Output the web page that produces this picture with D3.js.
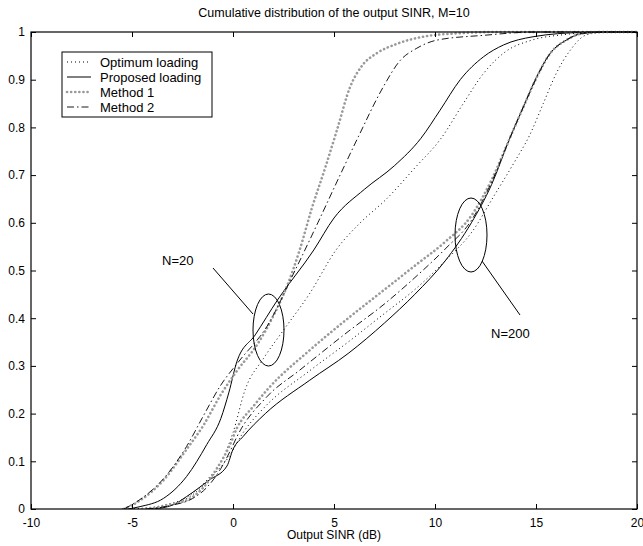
<!DOCTYPE html>
<html><head><meta charset="utf-8">
<script src="https://cdn.jsdelivr.net/npm/d3@7"></script>
<style>body{margin:0;background:#fff}svg{display:block}text{font-family:Arial,"Liberation Sans",sans-serif;fill:#000}</style>
</head><body><svg id="c" width="643" height="546"></svg>
<script>
const xTicks = [-10,-5,0,5,10,15,20];
const yTicks = [0,0.1,0.2,0.3,0.4,0.5,0.6,0.7,0.8,0.9,1];
const seriesNames = ["Optimum loading","Proposed loading","Method 1","Method 2"];

const optimum20 = [[-5.5,0],[-4,0.003],[-3.45,0.008],[-2.5,0.02],[-1.8,0.04],[-1.2,0.065],[-0.64,0.096],[0,0.16],[0.6,0.25],[1.5,0.315],[2.5,0.375],[3.8,0.452],[5.1,0.543],[6.3,0.6],[7.6,0.65],[9.0,0.715],[10.3,0.777],[11.4,0.85],[12.4,0.913],[13.5,0.959],[14.8,0.983],[16.5,0.995],[18,1],[20,1]];
const proposed20 = [[-5.2,0],[-4.6,0.005],[-3.45,0.022],[-2.3,0.068],[-1.3,0.135],[-0.6,0.19],[-0.2,0.245],[0.2,0.31],[1.1,0.365],[2.2,0.438],[4.0,0.543],[5.0,0.61],[6.5,0.67],[8.0,0.72],[9.3,0.777],[10.25,0.836],[11.25,0.9],[12.4,0.948],[13.4,0.973],[14.85,0.99],[17.3,0.999],[20,1]];
const method1_20 = [[-5.4,0],[-4.6,0.018],[-3.45,0.06],[-2.3,0.125],[-1.47,0.175],[-0.6,0.24],[0.2,0.29],[1.2,0.345],[2.0,0.405],[2.7,0.47],[3.3,0.543],[3.9,0.63],[4.6,0.72],[5.15,0.795],[5.8,0.885],[6.4,0.93],[7.1,0.955],[8.1,0.975],[9.4,0.99],[11,0.997],[13,1],[20,1]];
const method2_20 = [[-5.4,0],[-4.6,0.02],[-3.45,0.063],[-2.3,0.131],[-1.47,0.195],[-0.6,0.26],[0.3,0.31],[1.67,0.382],[3.07,0.5],[4.2,0.6],[5.3,0.7],[6.2,0.78],[7.44,0.885],[8.27,0.94],[9.1,0.966],[10.1,0.983],[12.4,0.993],[15,1],[20,1]];
const optimum200 = [[-4.2,0],[-3,0.009],[-2,0.03],[-1,0.07],[-0.2,0.11],[0.5,0.16],[1.6,0.215],[3.8,0.29],[5.7,0.35],[7.5,0.41],[9,0.46],[10.5,0.52],[11.9,0.585],[12.9,0.655],[13.9,0.725],[14.7,0.785],[15.36,0.85],[16.0,0.913],[16.7,0.962],[17.5,0.994],[18.5,1],[20,1]];
const proposed200 = [[-4,0],[-3,0.008],[-2.3,0.026],[-1.2,0.06],[-0.3,0.09],[0,0.125],[0.5,0.152],[1.6,0.2],[3.8,0.27],[5.7,0.326],[7.5,0.39],[9,0.45],[10.5,0.52],[11.8,0.6],[12.8,0.68],[13.7,0.777],[14.37,0.843],[15.03,0.906],[15.7,0.955],[16.5,0.983],[17.3,0.997],[18.5,1],[20,1]];
const method1_200 = [[-4.5,0],[-3,0.01],[-2,0.025],[-1.47,0.045],[-0.8,0.085],[-0.2,0.13],[0.2,0.17],[1.0,0.215],[1.8,0.255],[3.8,0.333],[5.7,0.4],[7.5,0.46],[9,0.51],[10.5,0.56],[11.8,0.615],[12.8,0.69],[13.7,0.777],[14.4,0.845],[15.05,0.906],[15.7,0.955],[16.5,0.983],[17.3,0.997],[18.5,1],[20,1]];
const method2_200 = [[-4.3,0],[-3,0.008],[-2,0.022],[-1.3,0.045],[-0.6,0.085],[-0.1,0.125],[0.2,0.152],[1.67,0.235],[3.3,0.291],[5.7,0.372],[7.5,0.43],[9,0.485],[10.5,0.545],[11.8,0.605],[12.8,0.685],[13.7,0.777],[14.4,0.845],[15.05,0.906],[15.7,0.955],[16.5,0.983],[17.3,0.997],[18.5,1],[20,1]];

const L=31,R=637,T=32,B=509;
const svg=d3.select("#c");
const x=d3.scaleLinear().domain([-10,20]).range([L,R]);
const y=d3.scaleLinear().domain([0,1]).range([B,T]);

const styles=[
 {stroke:"#000",width:1,dash:"1,3",cap:"butt"},
 {stroke:"#000",width:1,dash:null,cap:"butt"},
 {stroke:"#999",width:2.6,dash:"0.1,4",cap:"round"},
 {stroke:"#000",width:0.9,dash:"7,3,1.5,3",cap:"butt"}
];
const curves=[[optimum20,0],[proposed20,1],[method1_20,2],[method2_20,3],[optimum200,0],[proposed200,1],[method1_200,2],[method2_200,3]];

svg.append("defs").append("clipPath").attr("id","cp").append("rect").attr("x",L).attr("y",T-2).attr("width",R-L).attr("height",B-T+2);

const line=d3.line().x(d=>x(d[0])).y(d=>y(d[1])).curve(d3.curveMonotoneX);
const g=svg.append("g").attr("clip-path","url(#cp)");
curves.forEach(([data,si])=>{
  const s=styles[si];
  g.append("path").attr("d",line(data)).attr("fill","none").attr("stroke",s.stroke)
   .attr("stroke-width",s.width).attr("stroke-dasharray",s.dash).attr("stroke-linecap",s.cap);
});

const ax=svg.append("g");
ax.append("g").attr("transform",`translate(0,${B})`).call(d3.axisBottom(x).tickValues(xTicks).tickSize(-5).tickPadding(9).tickFormat(d=>String(d)));
ax.append("g").attr("transform",`translate(0,${T})`).call(d3.axisTop(x).tickValues(xTicks).tickSize(-5).tickFormat(""));
ax.append("g").attr("transform",`translate(${L},0)`).call(d3.axisLeft(y).tickValues(yTicks).tickSize(-5).tickPadding(6).tickFormat(d=>String(d)));
ax.append("g").attr("transform",`translate(${R},0)`).call(d3.axisRight(y).tickValues(yTicks).tickSize(-5).tickFormat(""));
ax.selectAll(".domain").remove();
ax.selectAll(".tick line").attr("stroke","#000");
ax.selectAll(".tick text").attr("font-size",12).attr("font-family","Arial, Liberation Sans, sans-serif");
svg.append("rect").attr("x",L).attr("y",T).attr("width",R-L).attr("height",B-T).attr("fill","none").attr("stroke","#000").attr("stroke-width",1.2);

svg.append("text").attr("x",(L+R)/2).attr("y",17).attr("text-anchor","middle").attr("font-size",12.5).text("Cumulative distribution of the output SINR, M=10");
svg.append("text").attr("x",(L+R)/2).attr("y",539).attr("text-anchor","middle").attr("font-size",12).text("Output SINR (dB)");

const lg=svg.append("g");
lg.append("rect").attr("x",62).attr("y",52).attr("width",150).attr("height",65).attr("fill","#fff").attr("stroke","#000").attr("stroke-width",1);
seriesNames.forEach((n,i)=>{
  const s=styles[i], yy=62+i*15;
  lg.append("line").attr("x1",67).attr("x2",91).attr("y1",yy).attr("y2",yy).attr("stroke",s.stroke).attr("stroke-width",s.width).attr("stroke-dasharray",s.dash).attr("stroke-linecap",s.cap);
  lg.append("text").attr("x",100).attr("y",yy+4.5).attr("font-size",13).text(n);
});

svg.append("ellipse").attr("cx",268.5).attr("cy",330).attr("rx",15.5).attr("ry",36).attr("fill","none").attr("stroke","#000");
svg.append("line").attr("x1",213).attr("y1",268).attr("x2",253).attr("y2",314).attr("stroke","#000");
svg.append("text").attr("x",162).attr("y",265).attr("font-size",13).text("N=20");
svg.append("ellipse").attr("cx",471).attr("cy",235).attr("rx",16).attr("ry",37).attr("fill","none").attr("stroke","#000");
svg.append("line").attr("x1",482).attr("y1",261).attr("x2",520).attr("y2",315).attr("stroke","#000");
svg.append("text").attr("x",491).attr("y",338).attr("font-size",13).text("N=200");
</script></body></html>
